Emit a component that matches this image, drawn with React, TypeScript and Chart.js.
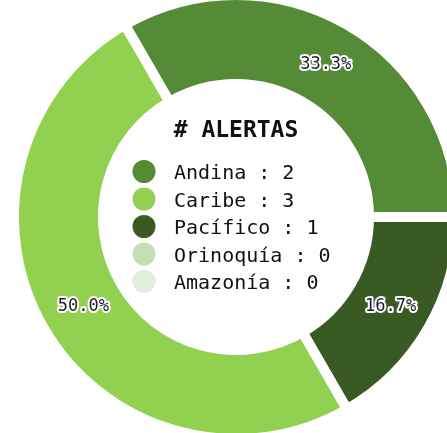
import React, { useEffect, useRef } from "react";
import { Chart, registerables } from "chart.js";

Chart.register(...registerables);

const regions = ["Andina", "Caribe", "Pacífico", "Orinoquía", "Amazonía"];
const alertCounts = [2, 3, 1, 0, 0];
const regionColors = ["#558A37", "#92D050", "#3A5A24", "#C5E0B4", "#E2EFDA"];
const titleText = "# ALERTAS";

// Drawn clockwise from 3 o'clock in reverse order, so the slices run counter-clockwise as in the reference
const drawLabels = [...regions].reverse();
const drawValues = [...alertCounts].reverse();
const drawColors = [...regionColors].reverse();

const MONO = '"DejaVu Sans Mono", monospace';

const centerPlugin = {
  id: "centerLegend",
  afterDatasetsDraw(chart: any) {
    const ctx = chart.ctx as CanvasRenderingContext2D;
    const meta = chart.getDatasetMeta(0);
    const first = meta.data[0] as any;
    const cx = first.x;
    const cy = first.y;
    const total = drawValues.reduce((a, b) => a + b, 0);

    // percentage labels on slices
    meta.data.forEach((arc: any, i: number) => {
      const v = drawValues[i];
      if (!v) return;
      const p = arc.getCenterPoint();
      const txt = ((v / total) * 100).toFixed(1) + "%";
      ctx.save();
      ctx.font = `17px ${MONO}`;
      ctx.textAlign = "center";
      ctx.textBaseline = "middle";
      ctx.lineJoin = "round";
      ctx.lineWidth = 4;
      ctx.strokeStyle = "#ffffff";
      ctx.strokeText(txt, p.x + 1, p.y + 1);
      ctx.fillStyle = "#1d1d2e";
      ctx.fillText(txt, p.x + 1, p.y + 1);
      ctx.restore();
    });

    // title
    ctx.save();
    ctx.font = `bold 23px ${MONO}`;
    ctx.textAlign = "center";
    ctx.textBaseline = "alphabetic";
    ctx.fillStyle = "#111111";
    ctx.fillText(titleText, cx, cy - 80);

    // legend rows
    ctx.font = `20px ${MONO}`;
    ctx.textAlign = "left";
    regions.forEach((name, i) => {
      const rowY = cy - 45.5 + i * 27.5;
      ctx.beginPath();
      ctx.arc(cx - 92, rowY, 11.5, 0, Math.PI * 2);
      ctx.fillStyle = regionColors[i];
      ctx.fill();
      ctx.fillStyle = "#111111";
      ctx.fillText(`${name} : ${alertCounts[i]}`, cx - 62, rowY + 7.5);
    });
    ctx.restore();
  },
};

export default function App() {
  const canvasRef = useRef<HTMLCanvasElement | null>(null);

  useEffect(() => {
    if (!canvasRef.current) return;
    const chart = new Chart(canvasRef.current, {
      type: "doughnut",
      data: {
        labels: drawLabels,
        datasets: [
          {
            data: drawValues,
            backgroundColor: drawColors,
            borderColor: "#ffffff",
            borderWidth: 10,
            hoverBorderWidth: 10,
            hoverOffset: 0,
          },
        ],
      },
      options: {
        responsive: false,
        devicePixelRatio: 1,
        animation: false,
        rotation: 90,
        cutout: "59.9%",
        radius: 222,
        layout: { padding: 0 },
        plugins: {
          legend: { display: false },
          tooltip: { enabled: false },
        },
        events: [],
      },
      plugins: [centerPlugin],
    } as any);
    return () => chart.destroy();
  }, []);

  return (
    <div
      style={{
        position: "fixed",
        left: 0,
        top: 0,
        width: 447,
        height: 433,
        overflow: "hidden",
        background: "#ffffff",
      }}
    >
      <canvas
        ref={canvasRef}
        width={444}
        height={444}
        style={{ position: "absolute", left: 14, top: -5, width: 444, height: 444 }}
      />
    </div>
  );
}
